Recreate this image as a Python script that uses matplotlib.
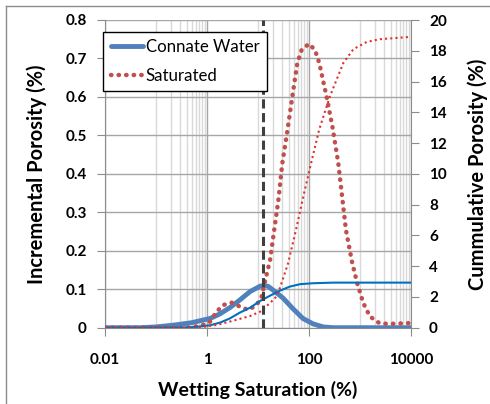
import numpy as np
import matplotlib
matplotlib.use("Agg")
import matplotlib.pyplot as plt
from matplotlib.lines import Line2D
from matplotlib.ticker import FixedLocator, NullFormatter

# values (x = wetting saturation %)
cw_inc_x = [0.01, 0.05, 0.1, 0.2, 0.3, 0.5, 0.73, 1.15, 1.8, 2.8, 4.4, 7, 11, 13.5, 16,
            19.7, 31, 48, 76, 120, 190, 300, 1000, 10000]
cw_inc_y = [0, 0, 0.002, 0.006, 0.009, 0.013, 0.018, 0.024, 0.036, 0.052, 0.072, 0.094,
            0.108, 0.11, 0.107, 0.098, 0.077, 0.05, 0.024, 0.01, 0.002, 0, 0, 0]

cw_cum_x = [0.01, 0.3, 0.6, 1.15, 1.8, 2.8, 4.4, 7, 11, 17, 27, 42, 67, 120, 300, 10000]
cw_cum_y = [0, 0, 0.05, 0.16, 0.33, 0.6, 0.98, 1.3, 1.74, 2.07, 2.41, 2.67, 2.83, 2.89,
            2.93, 2.93]

sat_inc_x = [0.01, 0.4, 0.53, 0.8, 1.15, 1.55, 2.09, 3.05, 4.4, 6.45, 9.4, 11.8, 13.7,
             17.2, 20.8, 25, 30, 36.5, 47, 59, 72, 100, 131, 159, 222, 290, 375, 530,
             700, 880, 1160, 1570, 2450, 3860, 9500]
sat_inc_y = [0, 0, 0.002, 0.006, 0.016, 0.042, 0.059, 0.065, 0.055, 0.046, 0.059, 0.081,
             0.12, 0.175, 0.254, 0.33, 0.428, 0.5, 0.6, 0.688, 0.723, 0.738, 0.722, 0.688,
             0.6, 0.52, 0.428, 0.254, 0.17, 0.116, 0.064, 0.029, 0.011, 0.01, 0.012]

sat_cum_x = [0.01, 0.63, 1.55, 3.3, 7, 11, 17, 23, 27, 39, 56, 77, 110, 159, 258, 470,
             740, 1350, 2400, 3860, 9500]
sat_cum_y = [0, 0, 0.18, 0.46, 0.76, 1.04, 1.59, 2.02, 2.6, 4.2, 6.4, 8.5, 10.7, 12.9,
             15.05, 17.2, 18.1, 18.57, 18.75, 18.8, 18.9]

cutoff = 12.7  # dashed marker line
x_ticks = [0.01, 1, 100, 10000]
x_tick_labels = ["0.01", "1", "100", "10000"]

plt.rcParams['font.family'] = ['Lato', 'DejaVu Sans']

fig = plt.figure(figsize=(4.9, 4.04), dpi=100)
ax1 = fig.add_axes([105/490, 1 - 327.7/404, 306/490, 307.7/404])
ax2 = ax1.twinx()

# frame around the chart (only top/left visible in the crop)
fig.add_artist(Line2D([6/490, 1], [1 - 6/404, 1 - 6/404], color='#8c8c8c', lw=1))
fig.add_artist(Line2D([6/490, 6/490], [0, 1 - 6/404], color='#8c8c8c', lw=1))

ax1.set_xscale('log')
ax1.set_xlim(0.01, 10000)
ax1.set_ylim(0, 0.8)
ax2.set_ylim(0, 20)

minor = [k * 10.0**e for e in (-1, 1, 3) for k in range(1, 10)]
ax1.xaxis.set_major_locator(FixedLocator(x_ticks))
ax1.xaxis.set_minor_locator(FixedLocator(minor))
ax1.xaxis.set_minor_formatter(NullFormatter())
ax1.set_xticks(x_ticks, x_tick_labels)
ax1.set_yticks(np.arange(0, 0.81, 0.1), ["0", "0.1", "0.2", "0.3", "0.4", "0.5", "0.6", "0.7", "0.8"])
ax2.set_yticks(np.arange(0, 21, 2))

ax1.grid(True, which='major', color='#a6a6a6', lw=1)
ax1.grid(True, which='minor', axis='x', color='#d9d9d9', lw=1)
ax1.set_axisbelow(True)

for ax in (ax1, ax2):
    for s in ax.spines.values():
        s.set_visible(False)
ax1.spines['left'].set_visible(True)
ax1.spines['bottom'].set_visible(True)
ax2.spines['right'].set_visible(True)
for s in (ax1.spines['left'], ax1.spines['bottom'], ax2.spines['right']):
    s.set_color('#8c8c8c')

ax1.tick_params(axis='x', which='major', length=6, color='#8c8c8c', pad=12,
                labelsize=11)
ax1.tick_params(axis='x', which='minor', length=0)
ax1.tick_params(axis='y', length=6, color='#8c8c8c', pad=7, labelsize=11)
ax2.tick_params(axis='y', length=6, color='#8c8c8c', pad=7, labelsize=11)
for lab in ax1.get_xticklabels() + ax1.get_yticklabels() + ax2.get_yticklabels():
    lab.set_fontweight('bold')

ax1.set_xlabel("Wetting Saturation (%)", fontsize=14, fontweight='bold', labelpad=10)
ax1.set_ylabel("Incremental Porosity (%)", fontsize=14.5, fontweight='bold', labelpad=13)
ax2.set_ylabel("Cummulative Porosity (%)", fontsize=14.5, fontweight='bold', labelpad=15)

ax1.axvline(cutoff, color='#404040', lw=2.2, ls=(0, (3, 1.5)), zorder=4)

l1, = ax1.plot(cw_inc_x, cw_inc_y, color='#4f81bd', lw=3.5, solid_capstyle='round',
               zorder=3, label='Connate Water')
l2, = ax1.plot(sat_inc_x, sat_inc_y, color='#c0504d', lw=3.2, ls=(0, (0.1, 1.6)),
               dash_capstyle='round', zorder=3, label='Saturated')
ax1.plot(cw_cum_x, cw_cum_y, color='#0070c0', lw=1.5, zorder=3,
         transform=ax2.transData)
ax1.plot(sat_cum_x, sat_cum_y, color='#e03030', lw=1.5, ls=(0, (1, 1.5)),
         zorder=3, transform=ax2.transData)

leg = ax1.legend(handles=[l1, l2], loc='upper left',
                 bbox_to_anchor=(103/490, 1 - 31.7/404), bbox_transform=fig.transFigure,
                 fontsize=12.1, frameon=True, fancybox=False, edgecolor='black',
                 framealpha=1, borderaxespad=0, handlelength=1.95, handletextpad=0.15,
                 borderpad=0.45, labelspacing=0.75)
leg.get_frame().set_linewidth(1.0)
leg.set_zorder(10)

fig.savefig("out.png", dpi=100)
